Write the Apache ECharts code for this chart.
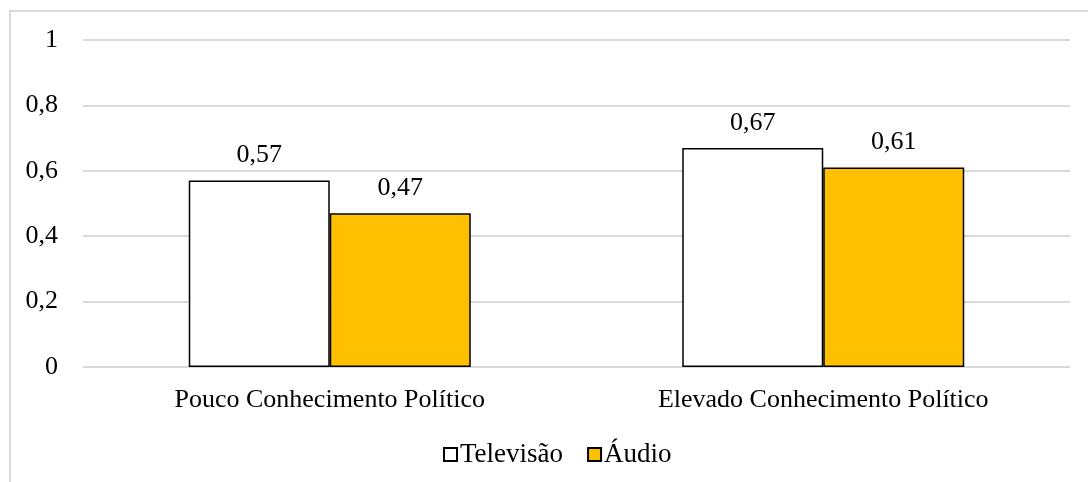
<!DOCTYPE html>
<html>
<head>
<meta charset="utf-8">
<script src="https://cdn.jsdelivr.net/npm/echarts@6/dist/echarts.min.js"></script>
<style>
  html, body { margin: 0; padding: 0; background: #fff; }
  #chart { width: 1088px; height: 482px; }
</style>
</head>
<body>
<div id="chart"></div>
<script>
// Categories and values for each medium
const categories = ['Pouco Conhecimento Político', 'Elevado Conhecimento Político'];
const televisao = [0.57, 0.67];
const audio = [0.47, 0.61];
const seriesNames = ['Televisão', 'Áudio'];

const font = '"Liberation Serif", "Times New Roman", serif';
const fmt = v => String(v).replace('.', ',');

const chart = echarts.init(document.getElementById('chart'), null, { renderer: 'canvas' });

const barLabel = {
  show: true,
  position: 'top',
  distance: 12,
  color: '#000',
  fontFamily: font,
  fontSize: 26,
  formatter: p => fmt(p.value)
};

chart.setOption({
  animation: false,
  backgroundColor: '#fff',
  graphic: [{
    type: 'rect',
    shape: { x: 10, y: 11, width: 1100, height: 500 },
    style: { fill: 'none', stroke: '#d9d9d9', lineWidth: 2 },
    silent: true
  }],
  grid: { left: 83, right: 18, top: 40, bottom: 115, containLabel: false },
  legend: {
    data: seriesNames,
    top: 436,
    left: 438,
    itemWidth: 13,
    itemHeight: 13,
    itemGap: 24,
    icon: 'rect',
    textStyle: { fontFamily: font, fontSize: 27, color: '#000', padding: [0, 0, 0, -2] }
  },
  xAxis: {
    type: 'category',
    data: categories,
    axisLine: { show: false },
    axisTick: { show: false },
    axisLabel: { fontFamily: font, fontSize: 26, color: '#000', margin: 20 }
  },
  yAxis: {
    type: 'value',
    min: 0,
    max: 1,
    interval: 0.2,
    axisLine: { show: false },
    axisTick: { show: false },
    splitLine: { lineStyle: { color: '#d9d9d9', width: 2 } },
    axisLabel: {
      fontFamily: font, fontSize: 26, color: '#000', margin: 25,
      formatter: v => fmt(Math.round(v * 10) / 10)
    }
  },
  series: [
    {
      name: seriesNames[0],
      type: 'bar',
      data: televisao,
      barWidth: 141,
      barGap: '0%',
      itemStyle: { color: '#ffffff', borderColor: '#000', borderWidth: 1.5 },
      label: barLabel
    },
    {
      name: seriesNames[1],
      type: 'bar',
      data: audio,
      barWidth: 141,
      barGap: '0%',
      itemStyle: { color: '#ffc000', borderColor: '#000', borderWidth: 1.5 },
      label: barLabel
    }
  ]
});
</script>
</body>
</html>
